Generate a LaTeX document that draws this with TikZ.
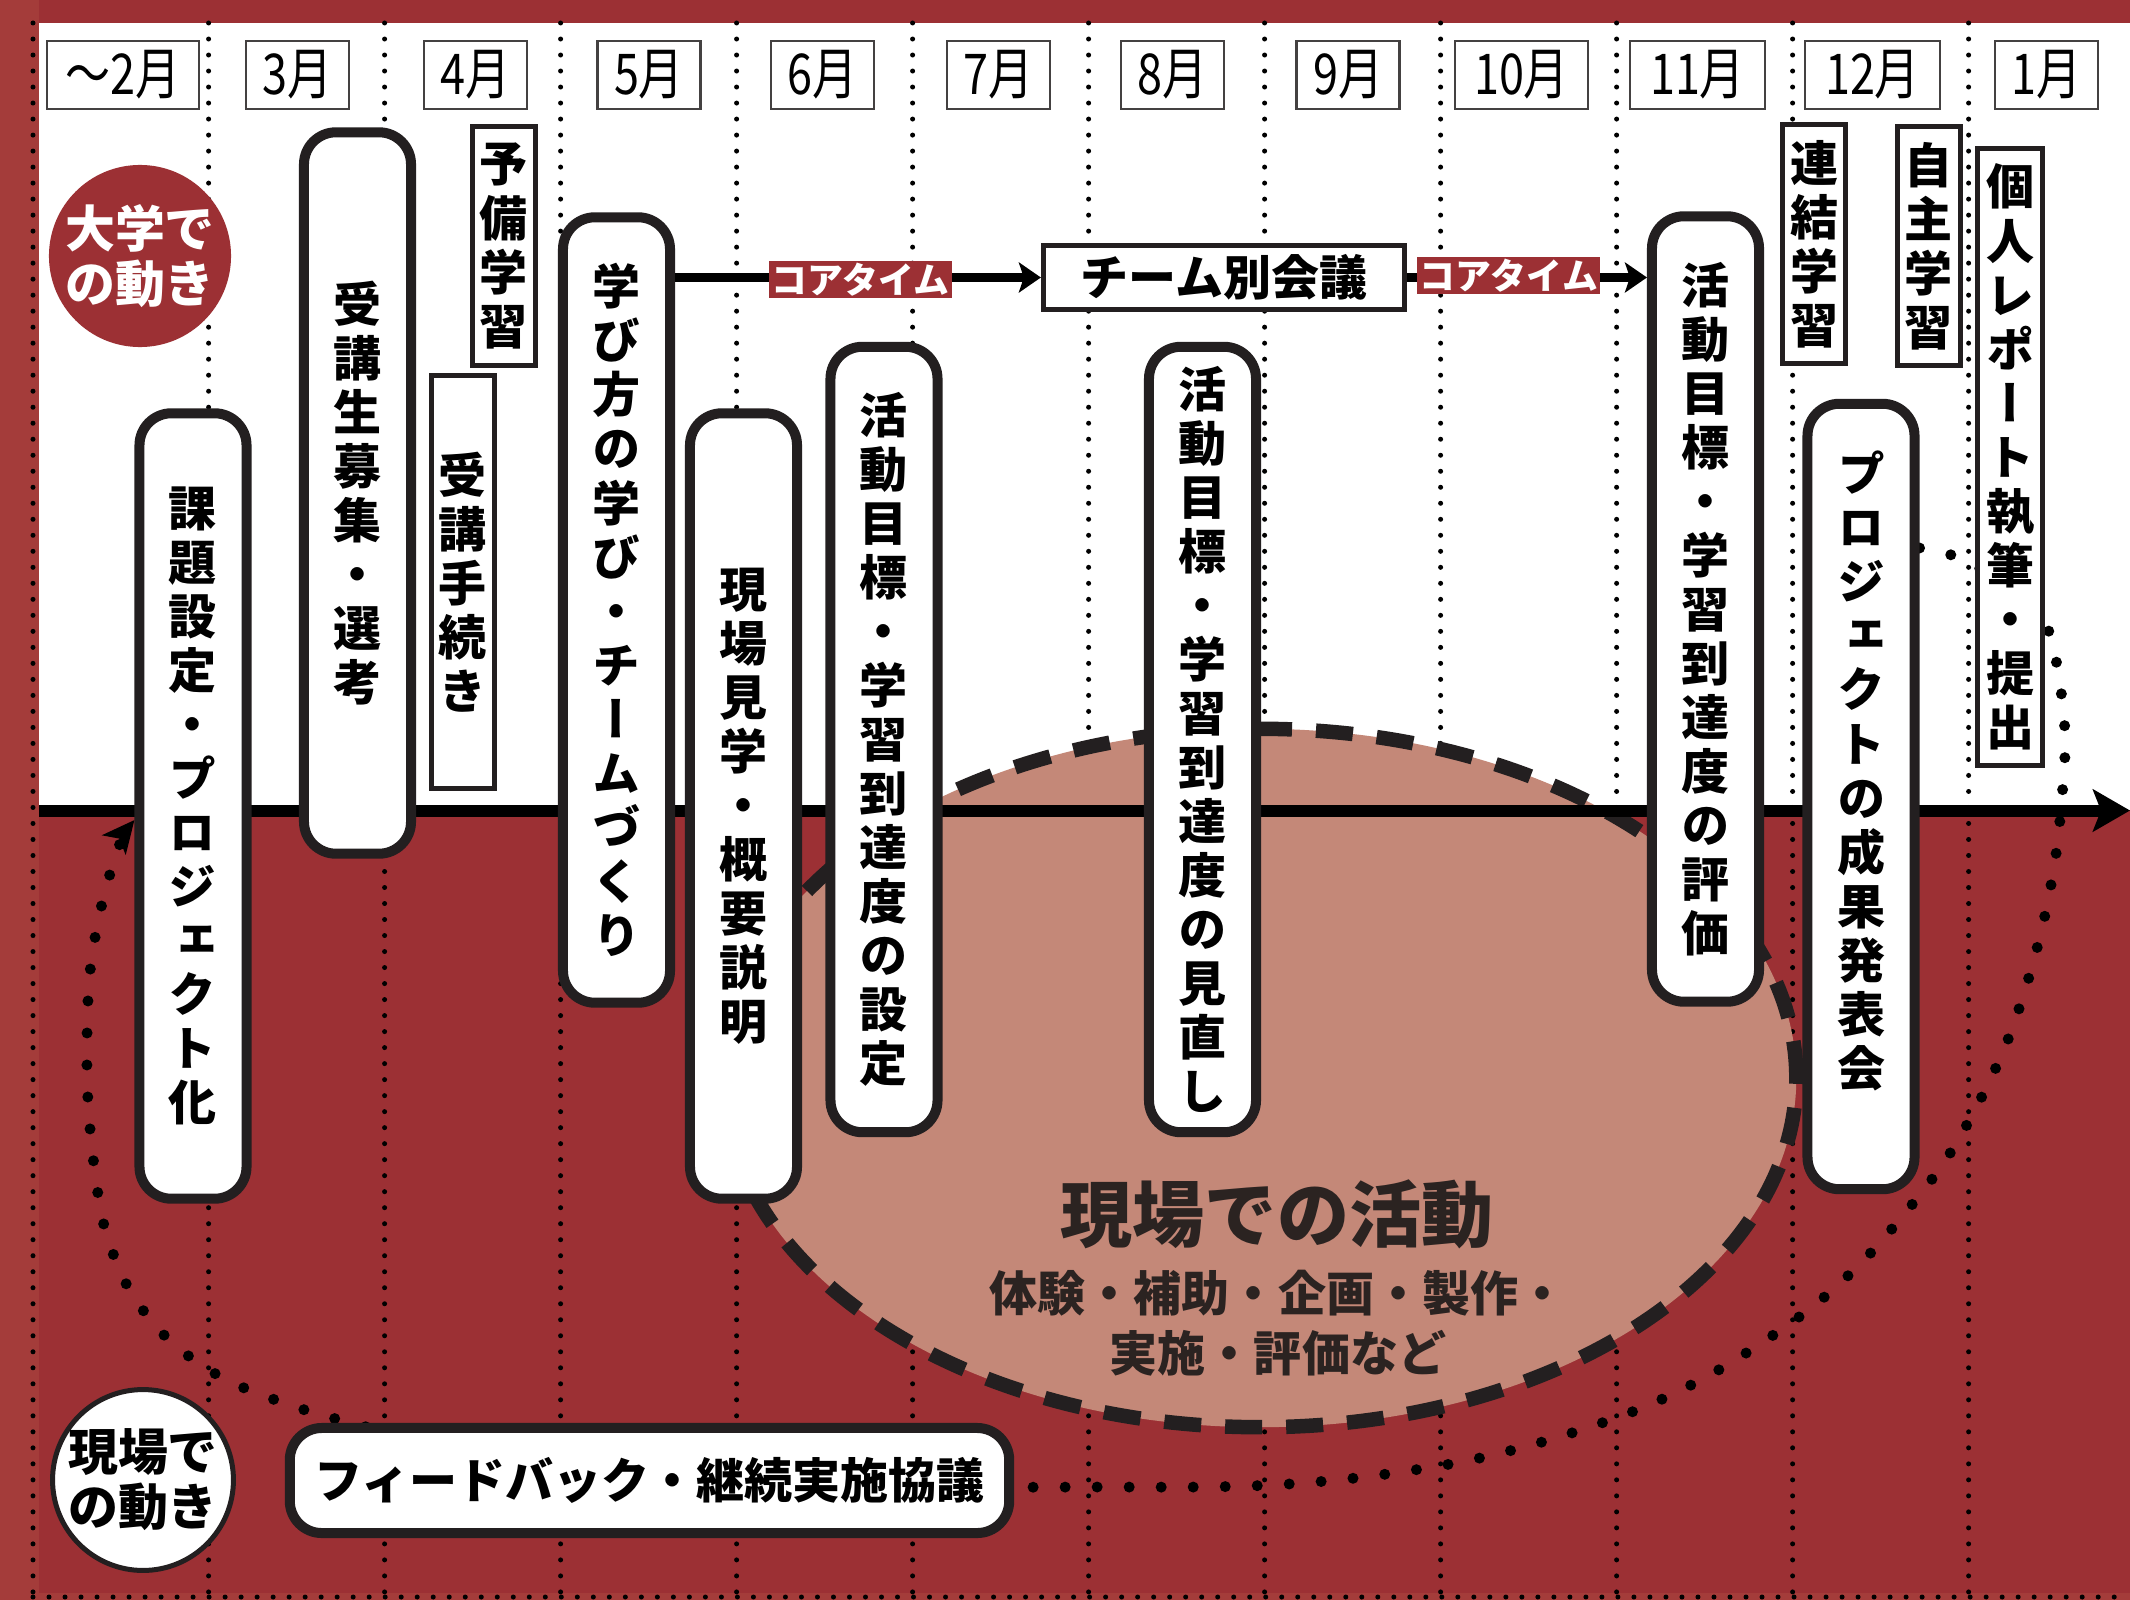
\documentclass[tikz,border=0pt]{standalone}
\usepackage{fontspec}
\usepackage{graphicx}
\usetikzlibrary{arrows.meta,shapes.geometric}
\newfontfamily\jp{Noto Sans CJK JP}
\newfontfamily\jpv{Noto Sans CJK JP}[RawFeature=+vert]
\definecolor{bgred}{RGB}{156,48,52}
\definecolor{lred}{RGB}{164,60,58}
\definecolor{salmon}{RGB}{196,136,120}
\definecolor{ink}{RGB}{35,31,32}
\definecolor{etext}{RGB}{43,35,33}
\newcommand\vfont{\jpv\bfseries\fontsize{13.66pt}{15.37pt}\selectfont}
\newcommand\mfont{\jp\fontsize{16pt}{17pt}\selectfont}
\newcommand\hfont{\jp\bfseries\fontsize{13.66pt}{15.6pt}\selectfont}
\newcommand\mlab[1]{\scalebox{0.8}[1]{#1}}
\pgfdeclarelayer{background}
\pgfsetlayers{background,main}
\tikzset{
 rbox/.style={draw=ink, line width=1mm, fill=white, rounded corners=3.2mm, inner sep=0pt,
   minimum width=10.7mm, minimum height=78.5mm, font=\vfont, align=center},
 vtext/.style={inner sep=0pt, font=\vfont, align=center},
 pbox/.style={draw=ink, line width=0.5mm, fill=white, inner sep=0pt, minimum width=6.3mm,
   font=\vfont, align=center},
 mbox/.style={draw=ink!85, line width=0.25mm, fill=white, inner sep=0pt, minimum height=6.75mm,
   minimum width=10.25mm, font=\mfont},
 conn/.style={line width=0.9mm, -{Stealth[length=2.2mm,width=3mm,inset=0.5mm]}},
 core/.style={fill=bgred, text=white, inner sep=0pt, minimum width=18.3mm, minimum height=3.6mm,
   font=\jp\bfseries\fontsize{10.2pt}{12pt}\selectfont},
 mdot/.style={line width=0.5mm, line cap=round, dash pattern=on 0pt off 1.6mm},
 cyc/.style={line width=1.1mm, line cap=round, dash pattern=on 0pt off 3.2mm},
 circlab/.style={circle, inner sep=0pt, align=center, font=\jp\bfseries\fontsize{14.2pt}{15.65pt}\selectfont},
}
\begin{document}
\begin{tikzpicture}[x=0.01cm,y=-0.01cm]
\useasboundingbox (0,0) rectangle (2130,1600);

% ---- main rounded boxes
\node[rbox] (b1) at (193,806) {課\\題\\設\\定\\・\\プ\\ロ\\ジ\\ェ\\ク\\ト\\化};
\node[rbox, minimum height=72.1mm] (b2) at (357.5,493) {受\\講\\生\\募\\集\\・\\選\\考};
\node[rbox] (b5) at (616.5,610) {学\\び\\方\\の\\学\\び\\・\\チ\\ー\\ム\\づ\\く\\り};
\node[rbox] (b6) at (743.5,806) {現\\場\\見\\学\\・\\概\\要\\説\\明};
\node[rbox] (b7) at (884,739.5) {活\\動\\目\\標\\・\\学\\習\\到\\達\\度\\の\\設\\定};
\node[rbox] (b8) at (1202.5,739.5) {活\\動\\目\\標\\・\\学\\習\\到\\達\\度\\の\\見\\直\\し};
\node[rbox] (b9) at (1705.5,609) {活\\動\\目\\標\\・\\学\\習\\到\\達\\度\\の\\評\\価};
\node[rbox] (b13) at (1861,796.5) {};
\node[vtext] (t13) at (1861,771) {プ\\ロ\\ジ\\ェ\\ク\\ト\\の\\成\\果\\発\\表\\会};

% ---- thin boxes
\node[pbox, minimum height=23.9mm] (p1) at (504,246) {予\\備\\学\\習};
\node[pbox, minimum height=41.3mm] (p2) at (463,582) {受\\講\\手\\続\\き};
\node[pbox, minimum height=23.9mm] (p3) at (1814,244) {連\\結\\学\\習};
\node[pbox, minimum height=23.9mm] (p4) at (1928.5,246) {自\\主\\学\\習};
\node[pbox, minimum width=6.5mm, minimum height=61.7mm] (p5) at (2010,457) {個\\人\\レ\\ポ\\ー\\ト\\執\\筆\\・\\提\\出};

% ---- month labels
\node[mbox, minimum width=15.15mm] (m0) at (123,75) {\mlab{〜2月}};
\node[mbox] (m1) at (297.5,75) {\mlab{3月}};
\node[mbox] (m2) at (475.5,75) {\mlab{4月}};
\node[mbox] (m3) at (649,75) {\mlab{5月}};
\node[mbox] (m4) at (822.5,75) {\mlab{6月}};
\node[mbox] (m5) at (998.5,75) {\mlab{7月}};
\node[mbox] (m6) at (1172.5,75) {\mlab{8月}};
\node[mbox] (m7) at (1348,75) {\mlab{9月}};
\node[mbox, minimum width=13.25mm] (m8) at (1521.5,75) {\mlab{10月}};
\node[mbox, minimum width=13.45mm] (m9) at (1697.5,75) {\mlab{11月}};
\node[mbox, minimum width=13.45mm] (m10) at (1872.5,75) {\mlab{12月}};
\node[mbox] (m11) at (2046.5,75) {\mlab{1月}};

% ---- meeting box and core-time arrows
\node[draw=ink, line width=0.5mm, fill=white, minimum width=36.1mm, minimum height=6.4mm,
  inner sep=0pt, font=\hfont] (mtg) at (1224,277.5) {チーム別会議};
\draw[conn] (b5.east |- mtg.west) -- (mtg.west);
\draw[conn] (mtg.east) -- (mtg.east -| b9.west);
\node[core] (k1) at (860.5,279.5) {コアタイム};
\node[core] (k2) at (1508.5,275.5) {コアタイム};

% ---- circles
\node[circlab, fill=bgred, text=white, minimum size=18.2mm] (cA) at (140,256) {大学で\\の動き};
\node[circlab, draw=ink, line width=0.5mm, fill=white, minimum size=17.3mm] (cB) at (143,1480) {現場で\\の動き};

% ---- feedback box
\node[rbox, minimum width=71.9mm, minimum height=10.5mm, font=\hfont] (fb) at (649.5,1480.5) {フィードバック・継続実施協議};

% ---- field texts
\node[inner sep=0pt, text=etext, font=\jp\bfseries\fontsize{20.5pt}{22pt}\selectfont] (ft) at (1277,1214) {現場での活動};
\node[inner sep=0pt, text=etext, align=center, font=\jp\bfseries\fontsize{13.66pt}{17.07pt}\selectfont] (fs) at (1278,1323) {体験・補助・企画・製作・\\実施・評価など};

\begin{pgfonlayer}{background}
\fill[bgred] (0,0) rectangle (2130,1600);
\fill[lred] (0,0) rectangle (39,1600);
\fill[lred] (0,1593) rectangle (2130,1600);
\fill[white] (39,23) rectangle (2130,810);
\foreach \i in {0,...,10} {\draw[mdot] (208.6+176*\i,23) -- (208.6+176*\i,1597);}
\draw[mdot] (33,23) -- (33,1597);
\draw[mdot] (33,1597) -- (2130,1597);
\node[ellipse, draw=ink, fill=salmon, line width=1.45mm, dash pattern=on 3.7mm off 2.4mm,
  minimum width=10.72cm, minimum height=6.98cm, inner sep=0pt] (field) at (1260,1078) {};
\coordinate (cycS) at (b13.east |- 0,548);
\coordinate (cycE) at (b1.west |- 0,820);
\draw[cyc, -{Stealth[length=3.2mm,width=3mm,inset=0.8mm]}] plot[smooth, tension=0.55] coordinates {
 (cycS) (1954,556) (2005,583) (2040,612) (2056,660) (2065,733) (2062,797) (2055,861) (2043,924)
 (2026,987) (2005,1047) (1977,1106) (1945,1161) (1906,1212) (1863,1261) (1816,1304) (1763,1342)
 (1708,1376) (1649,1405) (1590,1427) (1528,1446) (1466,1461) (1401,1472) (1337,1480) (1272,1485)
 (1200,1487) (1100,1487) (950,1487) (750,1483) (560,1466) (430,1442) (340,1420) (281,1402)
 (221,1377) (168,1339) (129,1289) (105,1229) (94,1165) (88,1101) (87,1037) (90,972) (101,908)
 (119,846) (cycE)};
\coordinate (axL) at (39,810.5);
\coordinate (axR) at (2130,810.5);
\draw[line width=1.2mm, -{Stealth[length=3.7mm,width=4.2mm,inset=0.8mm]}] (axL) -- (axR);
\end{pgfonlayer}
\end{tikzpicture}
\end{document}
